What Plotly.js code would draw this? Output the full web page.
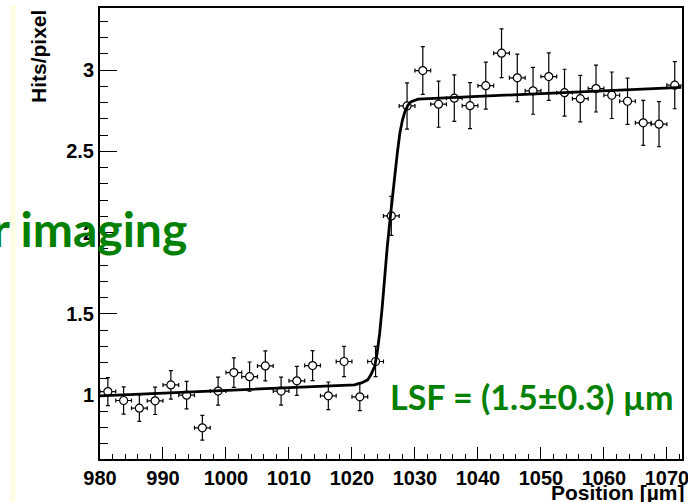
<!DOCTYPE html>
<html>
<head>
<meta charset="utf-8">
<script src="https://cdn.plot.ly/plotly-3.0.1.min.js"></script>
<style>html,body{margin:0;padding:0;background:#fff;}#chart{width:688px;height:502px;}</style>
</head>
<body>
<div id="chart"></div>
<script>
// Measured bins (position in µm, hits per pixel, statistical errors)
const positions = [981.25, 983.75, 986.25, 988.75, 991.25, 993.75, 996.25, 998.75, 1001.25, 1003.75,
  1006.25, 1008.75, 1011.25, 1013.75, 1016.25, 1018.75, 1021.25, 1023.75, 1026.25, 1028.75,
  1031.25, 1033.75, 1036.25, 1038.75, 1041.25, 1043.75, 1046.25, 1048.75, 1051.25, 1053.75,
  1056.25, 1058.75, 1061.25, 1063.75, 1066.25, 1068.75, 1071.25];
const hits = [1.022, 0.967, 0.920, 0.965, 1.063, 1.000, 0.799, 1.025, 1.139, 1.114,
  1.180, 1.025, 1.088, 1.182, 0.996, 1.207, 0.990, 1.207, 2.103, 2.780,
  2.998, 2.791, 2.828, 2.782, 2.905, 3.105, 2.953, 2.873, 2.961, 2.862,
  2.825, 2.887, 2.846, 2.809, 2.676, 2.668, 2.908];
const hitErrors = [0.086, 0.084, 0.082, 0.084, 0.088, 0.085, 0.076, 0.086, 0.091, 0.090,
  0.092, 0.086, 0.089, 0.092, 0.085, 0.093, 0.085, 0.093, 0.120, 0.142,
  0.147, 0.142, 0.143, 0.142, 0.145, 0.150, 0.146, 0.144, 0.146, 0.144,
  0.143, 0.144, 0.143, 0.142, 0.139, 0.139, 0.145];
const binHalfWidth = 1.25;

// Fitted edge
const fitX = [980, 990, 1000, 1010, 1020, 1020.4, 1021.5, 1022.5, 1023, 1023.6, 1024, 1024.4,
  1024.8, 1025.2, 1025.6, 1026.1, 1026.5, 1026.8, 1027.2, 1027.6, 1028, 1028.4, 1028.9,
  1029.4, 1030.5, 1040, 1050, 1060, 1072.3];
const fitY = [0.996, 1.0125, 1.029, 1.0455, 1.062, 1.063, 1.075, 1.094, 1.125, 1.176, 1.26, 1.38,
  1.54, 1.73, 1.91, 2.10, 2.25, 2.36, 2.49, 2.61, 2.69, 2.745, 2.785,
  2.807, 2.822, 2.839, 2.856, 2.873, 2.894];

const xTitle = 'Position [µm]';
const yTitle = 'Hits/pixel';
const slideText = 'r imaging';
const lsfText = 'LSF = (1.5±0.3) µm';

// pixel helpers for text placement (plot area: x 100..682, y 8..459)
const L = 100, R = 6, T = 8, B = 43, W = 688, H = 502;
const pw = W - L - R, ph = H - T - B;
const px = v => (v - L) / pw;
const py = v => (H - B - v) / ph;

const axisFont = {family: 'Liberation Sans, Arial, sans-serif', size: 20, color: '#000', weight: 'bold'};
const green = 'rgb(0,128,0)';

const data = [
  {
    type: 'scatter', mode: 'markers', x: positions, y: hits,
    error_y: {type: 'data', array: hitErrors, visible: true, color: '#000', thickness: 1.2, width: 2},
    error_x: {type: 'constant', value: binHalfWidth, visible: true, color: '#000', thickness: 1.2, width: 2},
    marker: {symbol: 'circle', size: 8, color: '#fff', line: {color: '#000', width: 1.2}},
    showlegend: false, hoverinfo: 'skip'
  },
  {
    type: 'scatter', mode: 'lines', x: fitX, y: fitY,
    line: {color: '#000', width: 2.8},
    showlegend: false, hoverinfo: 'skip'
  }
];

const layout = {
  width: W, height: H,
  margin: {l: L, r: R, t: T, b: B, pad: 0},
  paper_bgcolor: '#fff', plot_bgcolor: '#fff',
  showlegend: false,
  xaxis: {
    range: [980, 1072.4], showgrid: false, zeroline: false,
    showline: true, linecolor: '#000', linewidth: 2, mirror: true,
    ticks: 'inside', ticklen: 12, tickwidth: 1, tickcolor: '#000',
    tick0: 980, dtick: 10, tickfont: axisFont, ticklabelstandoff: 0,
    ticklabeloverflow: 'allow',
    minor: {ticks: 'inside', ticklen: 5, tickwidth: 1, tickcolor: '#000', dtick: 2, showgrid: false}
  },
  yaxis: {
    range: [0.607, 3.383], showgrid: false, zeroline: false,
    showline: true, linecolor: '#000', linewidth: 2, mirror: true,
    ticks: 'inside', ticklen: 17, tickwidth: 1, tickcolor: '#000',
    tick0: 0, dtick: 0.5, tickfont: axisFont,
    minor: {ticks: 'inside', ticklen: 8, tickwidth: 1, tickcolor: '#000', dtick: 0.1, showgrid: false}
  },
  shapes: [
    {type: 'rect', xref: 'paper', yref: 'paper', x0: px(10), x1: px(15.7), y0: py(502), y1: py(5),
     fillcolor: '#fffde3', line: {width: 0}, layer: 'below'}
  ],
  annotations: [
    {xref: 'paper', yref: 'paper', x: px(38.5), y: py(8), xanchor: 'center', yanchor: 'top',
     text: yTitle, textangle: -90, showarrow: false,
     font: {family: 'Liberation Sans, Arial, sans-serif', size: 21, color: '#000', weight: 'bold'}},
    {xref: 'paper', yref: 'paper', x: px(686), y: py(492), xanchor: 'right', yanchor: 'middle',
     text: xTitle, showarrow: false,
     font: {family: 'Liberation Sans, Arial, sans-serif', size: 21, color: '#000', weight: 'bold'}},
    {xref: 'paper', yref: 'paper', x: px(189), y: py(228), xanchor: 'right', yanchor: 'middle',
     text: slideText, showarrow: false,
     font: {family: 'Lato, Open Sans, sans-serif', size: 48, color: green, weight: 'bold'}},
    {xref: 'paper', yref: 'paper', x: px(388), y: py(396), xanchor: 'left', yanchor: 'middle',
     text: lsfText, showarrow: false,
     font: {family: 'Lato, Open Sans, sans-serif', size: 34, color: green, weight: 'bold'}}
  ]
};

Plotly.newPlot('chart', data, layout, {staticPlot: true, displayModeBar: false});
</script>
</body>
</html>
